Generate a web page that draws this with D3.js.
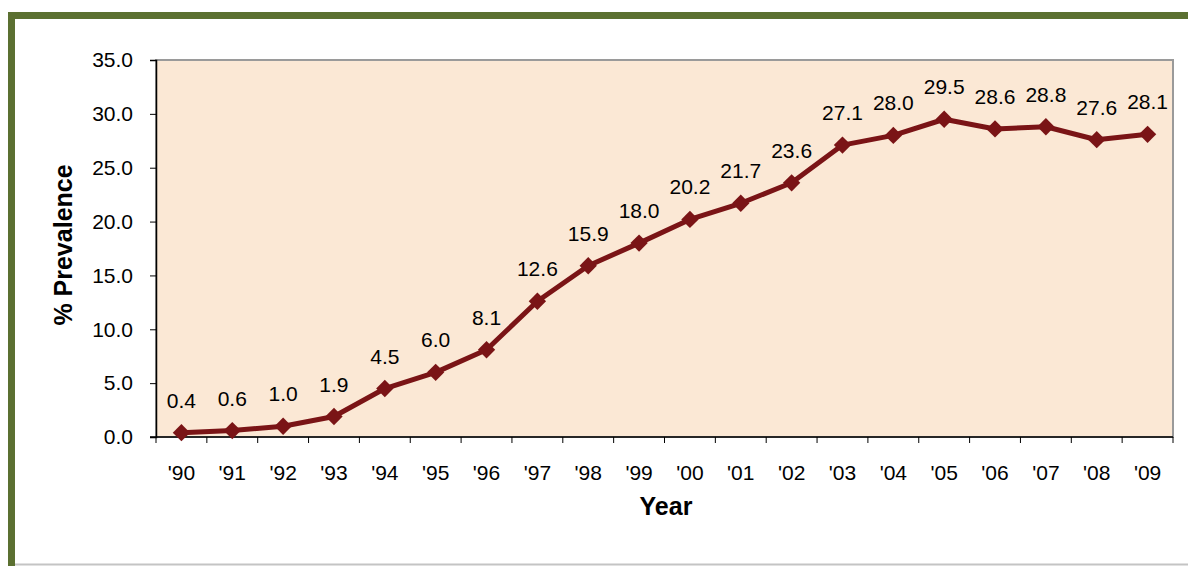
<!DOCTYPE html>
<html>
<head>
<meta charset="utf-8">
<script src="https://cdn.jsdelivr.net/npm/d3@7"></script>
<style>
  html, body { margin: 0; padding: 0; background: #fff; }
  svg { display: block; font-family: "Liberation Sans", Arial, sans-serif; }
</style>
</head>
<body>
<svg id="chart" width="1188" height="566"></svg>
<script>
// Prevalence by year, 1990-2009
const years = ["'90","'91","'92","'93","'94","'95","'96","'97","'98","'99",
               "'00","'01","'02","'03","'04","'05","'06","'07","'08","'09"];
const prevalence = [0.4, 0.6, 1.0, 1.9, 4.5, 6.0, 8.1, 12.6, 15.9, 18.0,
                    20.2, 21.7, 23.6, 27.1, 28.0, 29.5, 28.6, 28.8, 27.6, 28.1];
const yTicks = [0, 5, 10, 15, 20, 25, 30, 35];

const svg = d3.select("#chart");
const plot = { left: 156, top: 60, right: 1173, bottom: 437 };
const fs = 21;

// Outer frame
svg.append("rect")
  .attr("x", 11.5).attr("y", 15.5)
  .attr("width", 1200).attr("height", 600)
  .attr("fill", "#fff")
  .attr("stroke", "#5b7031").attr("stroke-width", 7);
svg.append("line")
  .attr("x1", 15).attr("x2", 1188).attr("y1", 564.5).attr("y2", 564.5)
  .attr("stroke", "#c4c4c4").attr("stroke-width", 2);

const x = d3.scaleBand().domain(years).range([plot.left, plot.right]);
const y = d3.scaleLinear().domain([0, 35]).range([plot.bottom, plot.top]);

// Plot area
svg.append("rect")
  .attr("x", plot.left).attr("y", plot.top)
  .attr("width", plot.right - plot.left).attr("height", plot.bottom - plot.top)
  .attr("fill", "#fbe8d5")
  .attr("stroke", "#9a9a9a").attr("stroke-width", 2);

// Y axis
const yAxis = svg.append("g")
  .attr("transform", `translate(${plot.left},0)`)
  .call(d3.axisLeft(y).tickValues(yTicks).tickFormat(d3.format(".1f"))
          .tickSize(6).tickPadding(17));
yAxis.select(".domain").attr("stroke", "#000").attr("stroke-width", 1.5);
yAxis.selectAll(".tick line").attr("stroke", "#000");
yAxis.selectAll(".tick text").attr("font-size", fs).attr("fill", "#000")
  .attr("font-family", "Liberation Sans, Arial, sans-serif");

// X axis: ticks on category boundaries
const xAxis = svg.append("g")
  .attr("transform", `translate(0,${plot.bottom})`);
xAxis.append("line")
  .attr("x1", plot.left - 6).attr("x2", plot.right)
  .attr("stroke", "#000").attr("stroke-width", 1.5);
const bounds = years.map(d => x(d)).concat([plot.right]);
xAxis.selectAll("line.tk").data(bounds).join("line")
  .attr("class", "tk")
  .attr("x1", d => d).attr("x2", d => d)
  .attr("y1", 0).attr("y2", 6)
  .attr("stroke", "#000");
xAxis.selectAll("text").data(years).join("text")
  .attr("x", d => x(d) + x.bandwidth() / 2)
  .attr("y", 43)
  .attr("text-anchor", "middle")
  .attr("font-size", fs)
  .text(d => d);

// Line + markers
const cx = (d, i) => x(years[i]) + x.bandwidth() / 2;
const line = d3.line().x(cx).y(d => y(d));
svg.append("path")
  .datum(prevalence)
  .attr("d", line)
  .attr("fill", "none")
  .attr("stroke", "#7a1416")
  .attr("stroke-width", 5)
  .attr("stroke-linejoin", "round");

const diamond = d3.symbol().type(d3.symbolSquare).size(150);
svg.selectAll("path.mk").data(prevalence).join("path")
  .attr("class", "mk")
  .attr("d", diamond)
  .attr("transform", (d, i) => `translate(${cx(d, i)},${y(d)}) rotate(45)`)
  .attr("fill", "#7a1416");

// Value labels
svg.selectAll("text.val").data(prevalence).join("text")
  .attr("class", "val")
  .attr("x", cx)
  .attr("y", d => y(d) - 25)
  .attr("text-anchor", "middle")
  .attr("font-size", fs)
  .text(d => d.toFixed(1));

// Axis titles
svg.append("text")
  .attr("x", 666).attr("y", 515)
  .attr("text-anchor", "middle")
  .attr("font-size", 25).attr("font-weight", "bold")
  .text("Year");
svg.append("text")
  .attr("transform", "translate(72,245) rotate(-90)")
  .attr("text-anchor", "middle")
  .attr("font-size", 25).attr("font-weight", "bold")
  .text("% Prevalence");
</script>
</body>
</html>
